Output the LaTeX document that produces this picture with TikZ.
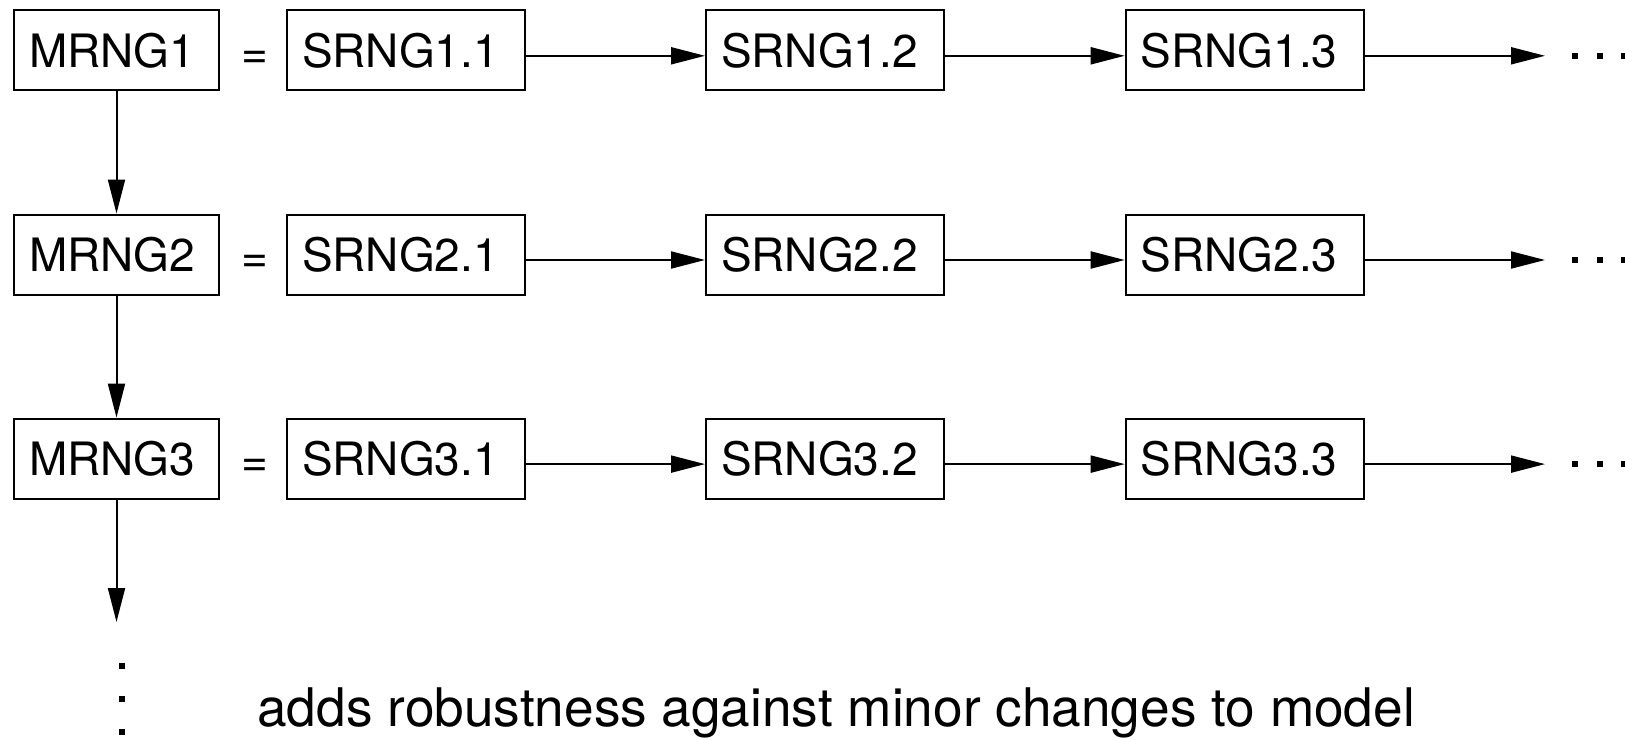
\documentclass[tikz,border=0pt]{standalone}
\usepackage{fontspec}
\setmainfont{TeX Gyre Heros}
\usetikzlibrary{arrows.meta}
\begin{document}
\begin{tikzpicture}[x=0.5pt,y=-0.5pt,
 box/.style={draw,line width=1pt,inner xsep=7.5pt,minimum height=40pt,align=left,font=\fontsize{23}{27}\selectfont},
 mbox/.style={box,text width=87.5pt},
 sbox/.style={box,text width=104pt},
 arr/.style={line width=1pt,-{Triangle[length=17pt,width=8.5pt]}},
 dotmark/.style={fill=black,inner sep=0pt,minimum size=3.2pt},
 lab/.style={font=\fontsize{23}{27}\selectfont,inner sep=0pt}]
\useasboundingbox (0,0) rectangle (1625,739);
\foreach \r/\y in {1/50.3,2/254.5,3/458.6}{
 \node[mbox] (m\r) at (116.5,\y) {MRNG\r};
 \node[lab,anchor=base] (eq\r) at (254.5,{\y+18}) {=};
 \node[sbox] (s\r1) at (406,\y) {SRNG\r.1};
 \node[sbox] (s\r2) at (825,\y) {SRNG\r.2};
 \node[sbox] (s\r3) at (1244.7,\y) {SRNG\r.3};
 \coordinate (t\r) at (1545,{\y+5.5});
 \draw[arr] ([yshift=-2.75pt]s\r1.east) -- ([yshift=-2.75pt]s\r2.west);
 \draw[arr] ([yshift=-2.75pt]s\r2.east) -- ([yshift=-2.75pt]s\r3.west);
 \draw[arr] ([yshift=-2.75pt]s\r3.east) -- (t\r);
 \node[dotmark] (da\r) at (1575,{\y+5.5}) {};
 \node[dotmark] (db\r) at (1600,{\y+5.5}) {};
 \node[dotmark] (dc\r) at (1624,{\y+5.5}) {};
}
\coordinate (t4) at (116.5,622);
\draw[arr] (m1.south) -- (m2.north);
\draw[arr] (m2.south) -- (m3.north);
\draw[arr] (m3.south) -- (t4);
\node[dotmark] (v1) at (122,666) {};
\node[dotmark] (v2) at (122,699) {};
\node[dotmark] (v3) at (122,732) {};
\node[anchor=base west,inner sep=0pt,font=\fontsize{26.6}{30}\selectfont] (note) at (257,726.5) {adds robustness against minor changes to model};
\end{tikzpicture}
\end{document}
